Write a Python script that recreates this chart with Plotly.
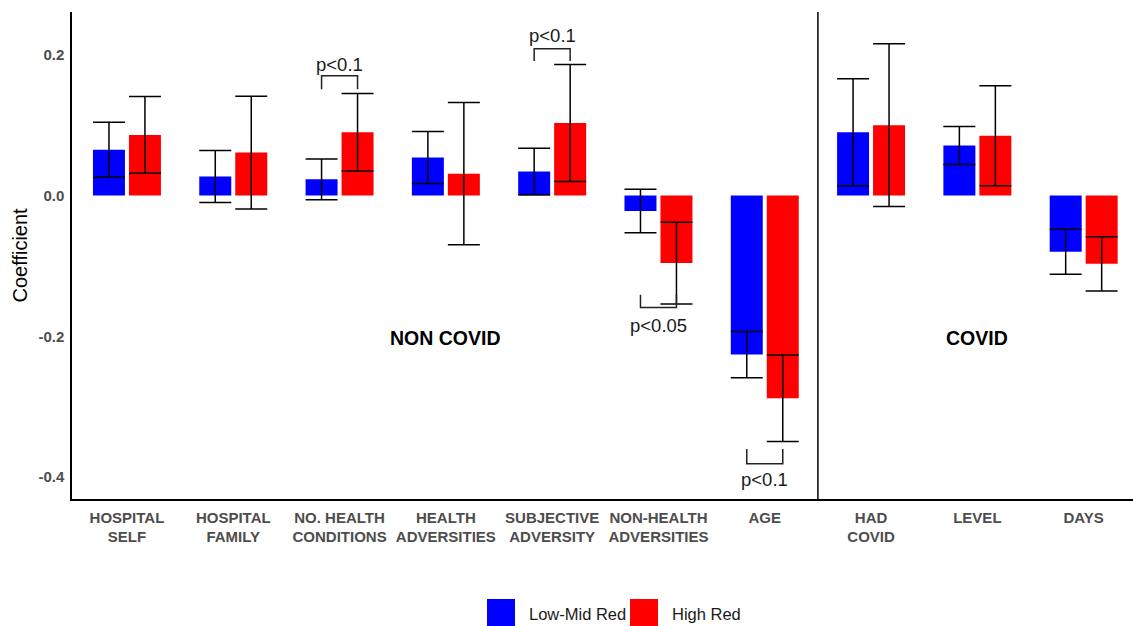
import plotly.graph_objects as go

# Predictors (two-line axis labels)
categories = [
    "HOSPITAL<br>SELF", "HOSPITAL<br>FAMILY", "NO. HEALTH<br>CONDITIONS",
    "HEALTH<br>ADVERSITIES", "SUBJECTIVE<br>ADVERSITY", "NON-HEALTH<br>ADVERSITIES",
    "AGE", "HAD<br>COVID", "LEVEL", "DAYS",
]

# Coefficients and half-width of the confidence interval per group
low_mid_coef = [0.065, 0.027, 0.023, 0.054, 0.034, -0.022, -0.226, 0.090, 0.071, -0.080]
low_mid_err = [0.039, 0.037, 0.029, 0.037, 0.033, 0.031, 0.033, 0.076, 0.027, 0.032]
high_coef = [0.086, 0.061, 0.090, 0.031, 0.103, -0.096, -0.288, 0.100, 0.085, -0.097]
high_err = [0.0545, 0.080, 0.055, 0.101, 0.083, 0.058, 0.0615, 0.1155, 0.071, 0.0385]

# Significance brackets: (category index, bracket level, leg end, label, label level)
brackets = [
    (2, 0.170, 0.151, "p<0.1", 0.186),
    (4, 0.2085, 0.191, "p<0.1", 0.227),
    (5, -0.159, -0.141, "p<0.05", -0.185),
    (6, -0.381, -0.360, "p<0.1", -0.404),
]

# Section labels
sections = [(3, -0.202, "NON COVID"), (8, -0.202, "COVID")]
section_split = 6.5

BLUE = "#0000FF"
RED = "#FF0000"
FONT = "Liberation Sans, Arial, sans-serif"
BARGAP = 0.323
GROUPGAP = 0.111

x = list(range(len(categories)))

fig = go.Figure()
for name, vals, errs, color in [
    ("Low-Mid Red", low_mid_coef, low_mid_err, BLUE),
    ("High Red", high_coef, high_err, RED),
]:
    fig.add_trace(go.Bar(
        x=x, y=vals, name=name,
        marker=dict(color=color, line=dict(width=0)),
        error_y=dict(type="data", array=errs, visible=True,
                     color="#000000", thickness=1.5, width=16),
        showlegend=False,
    ))

# bar centre offset within a group
slot = (1 - BARGAP) / 2
half = slot / 2

shapes = []
annotations = []
for idx, level, leg, label, ty in brackets:
    x0, x1 = idx - half, idx + half
    shapes.append(dict(type="path", xref="x", yref="y",
                       path=f"M {x0},{leg} L {x0},{level} L {x1},{level} L {x1},{leg}",
                       line=dict(color="#222222", width=1.5)))
    annotations.append(dict(x=idx, y=ty, xref="x", yref="y", text=label,
                            showarrow=False, font=dict(family=FONT, size=18.5, color="#1a1a1a")))

for idx, ty, label in sections:
    annotations.append(dict(x=idx, y=ty, xref="x", yref="y", text=f"<b>{label}</b>",
                            showarrow=False, font=dict(family=FONT, size=19.5, color="#000000")))

shapes.append(dict(type="line", xref="x", yref="paper", x0=section_split, x1=section_split,
                   y0=0, y1=1, line=dict(color="#000000", width=1.5)))

# Legend keys drawn below the plot area
PLOT_L, PLOT_W, PLOT_B, PLOT_H = 72, 1061, 499, 487
def px(xp):
    return (xp - PLOT_L) / PLOT_W
def py(yp):
    return (PLOT_B - yp) / PLOT_H

legend_items = [("Low-Mid Red", BLUE, 487), ("High Red", RED, 630)]
for label, color, left in legend_items:
    shapes.append(dict(type="rect", xref="paper", yref="paper",
                       x0=px(left), x1=px(left + 28), y0=py(599), y1=py(628),
                       fillcolor=color, line=dict(width=0)))
    annotations.append(dict(x=px(left + 40), y=py(614), xref="paper", yref="paper",
                            xanchor="left", yanchor="middle", text=label, showarrow=False,
                            font=dict(family=FONT, size=16.5, color="#1a1a1a")))

# y-axis title
annotations.append(dict(x=px(19), y=0.5, xref="paper", yref="paper", text="Coefficient",
                        textangle=-90, showarrow=False, xanchor="center", yanchor="middle",
                        font=dict(family=FONT, size=20, color="#000000")))

fig.update_layout(
    width=1133, height=626,
    margin=dict(l=72, r=0, t=12, b=127),
    plot_bgcolor="white", paper_bgcolor="white",
    barmode="group", bargap=BARGAP, bargroupgap=GROUPGAP,
    shapes=shapes, annotations=annotations,
    font=dict(family=FONT),
    xaxis=dict(
        range=[-0.517, 9.464], tickmode="array", tickvals=x, ticktext=[f"<b>{c}</b>" for c in categories],
        showgrid=False, zeroline=False, showline=True, linecolor="#000000", linewidth=1.5,
        ticks="", ticklabelstandoff=4, tickfont=dict(family=FONT, size=15, color="#4d4d4d"),
    ),
    yaxis=dict(
        range=[-0.4311, 0.2607], tickvals=[0.2, 0.0, -0.2, -0.4],
        ticktext=["<b>0.2</b>", "<b>0.0</b>", "<b>-0.2</b>", "<b>-0.4</b>"],
        showgrid=False, zeroline=False, showline=True, linecolor="#000000", linewidth=1.5,
        ticks="", ticklabelstandoff=3, tickfont=dict(family=FONT, size=15, color="#4d4d4d"),
        automargin=False,
    ),
)

fig.write_html("out.html")
